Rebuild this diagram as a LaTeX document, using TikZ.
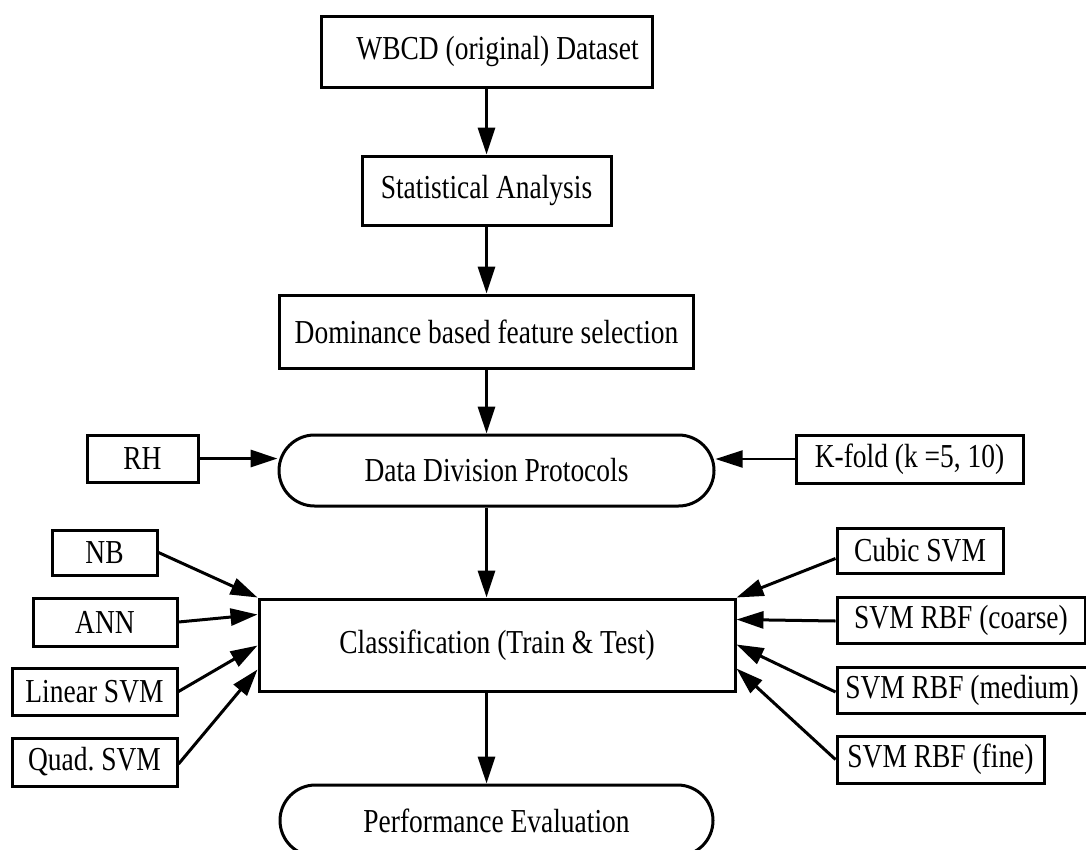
\documentclass[tikz,border=0pt]{standalone}
\usepackage{fontspec}
\setmainfont{Liberation Serif}[FakeStretch=0.82]
\usetikzlibrary{arrows.meta,shapes.misc}

\begin{document}
\begin{tikzpicture}[x=1pt, y=-1pt, line width=3pt,
        font=\fontsize{33.5}{36}\selectfont,
        box/.style = {draw, rectangle, inner sep=0pt},
        term/.style = {draw, rounded rectangle, inner sep=0pt, minimum height=71pt},
        arr/.style = {-{Triangle[length=27pt,width=17pt]}}]
        \useasboundingbox (0,0) rectangle (1086,849);

        \node[box, minimum width=331pt, minimum height=71pt] (wbcd) at (486.5,51.5) {\hspace*{22pt}WBCD (original) Dataset};
        \node[box, minimum width=249pt, minimum height=69pt] (stat) at (486.5,190.5) {Statistical Analysis};
        \node[box, minimum width=414pt, minimum height=73pt] (dom) at (486.5,331.5) {Dominance based feature selection};
        \node[term, minimum width=435pt] (ddp) at (496.5,470.5) {Data Division Protocols};
        \node[box, minimum width=476pt, minimum height=92pt] (cls) at (497,645) {Classification (Train \& Test)};
        \node[term, minimum width=433pt] (perf) at (496.5,820.5) {Performance Evaluation};

        \node[box, minimum width=111pt, minimum height=47pt] (rh) at (142.5,458.5) {RH};
        \node[box, minimum width=227pt, minimum height=48pt] (kfold) at (909.5,459) {K-fold (k =5, 10)};

        \node[box, minimum width=105pt, minimum height=45pt] (nb) at (104.5,552.5) {NB};
        \node[box, minimum width=144pt, minimum height=48pt] (ann) at (105,622) {ANN};
        \node[box, minimum width=165pt, minimum height=47pt] (lin) at (94.5,691.5) {Linear SVM};
        \node[box, minimum width=165pt, minimum height=48pt] (quad) at (94.5,762) {Quad.\ SVM};

        \node[box, minimum width=166pt, minimum height=45pt] (cubic) at (920,550.5) {Cubic SVM};
        \node[box, minimum width=248pt, minimum height=46pt] (coarse) at (961,620) {SVM RBF (coarse)};
        \node[box, minimum width=250pt, minimum height=46pt] (medium) at (962,690) {SVM RBF (medium)};
        \node[box, minimum width=207pt, minimum height=47pt] (fine) at (940.5,759.5) {SVM RBF (fine)};

        \draw[arr] (wbcd) -- (stat);
        \draw[arr] (stat) -- (dom);
        \draw[arr] (dom) -- (dom.south |- ddp.north);
        \draw[arr] (ddp.south -| dom.south) -- (cls.north -| dom.south);
        \draw[arr] (cls.south -| dom.south) -- (perf.north -| dom.south);

        \draw[arr] (rh) -- (rh -| ddp.west);
        \draw[arr, line width=2pt] (kfold) -- (kfold -| ddp.east);

        \draw[arr] (nb.east) -- (cls.north west);
        \draw[arr] (ann.east) -- ([yshift=-17pt]cls.north west);
        \draw[arr] (lin.east) -- ([yshift=-48pt]cls.north west);
        \draw[arr] ([yshift=-2pt]quad.east) -- ([yshift=-72pt]cls.north west);

        \draw[arr] ([yshift=-8pt]cubic.west) -- (cls.north east);
        \draw[arr] ([yshift=-1pt]coarse.west) -- ([yshift=-22pt]cls.north east);
        \draw[arr] ([yshift=-2pt]medium.west) -- ([yshift=-47pt]cls.north east);
        \draw[arr] (fine.west) -- ([yshift=-71pt]cls.north east);

    \end{tikzpicture}
\end{document}
